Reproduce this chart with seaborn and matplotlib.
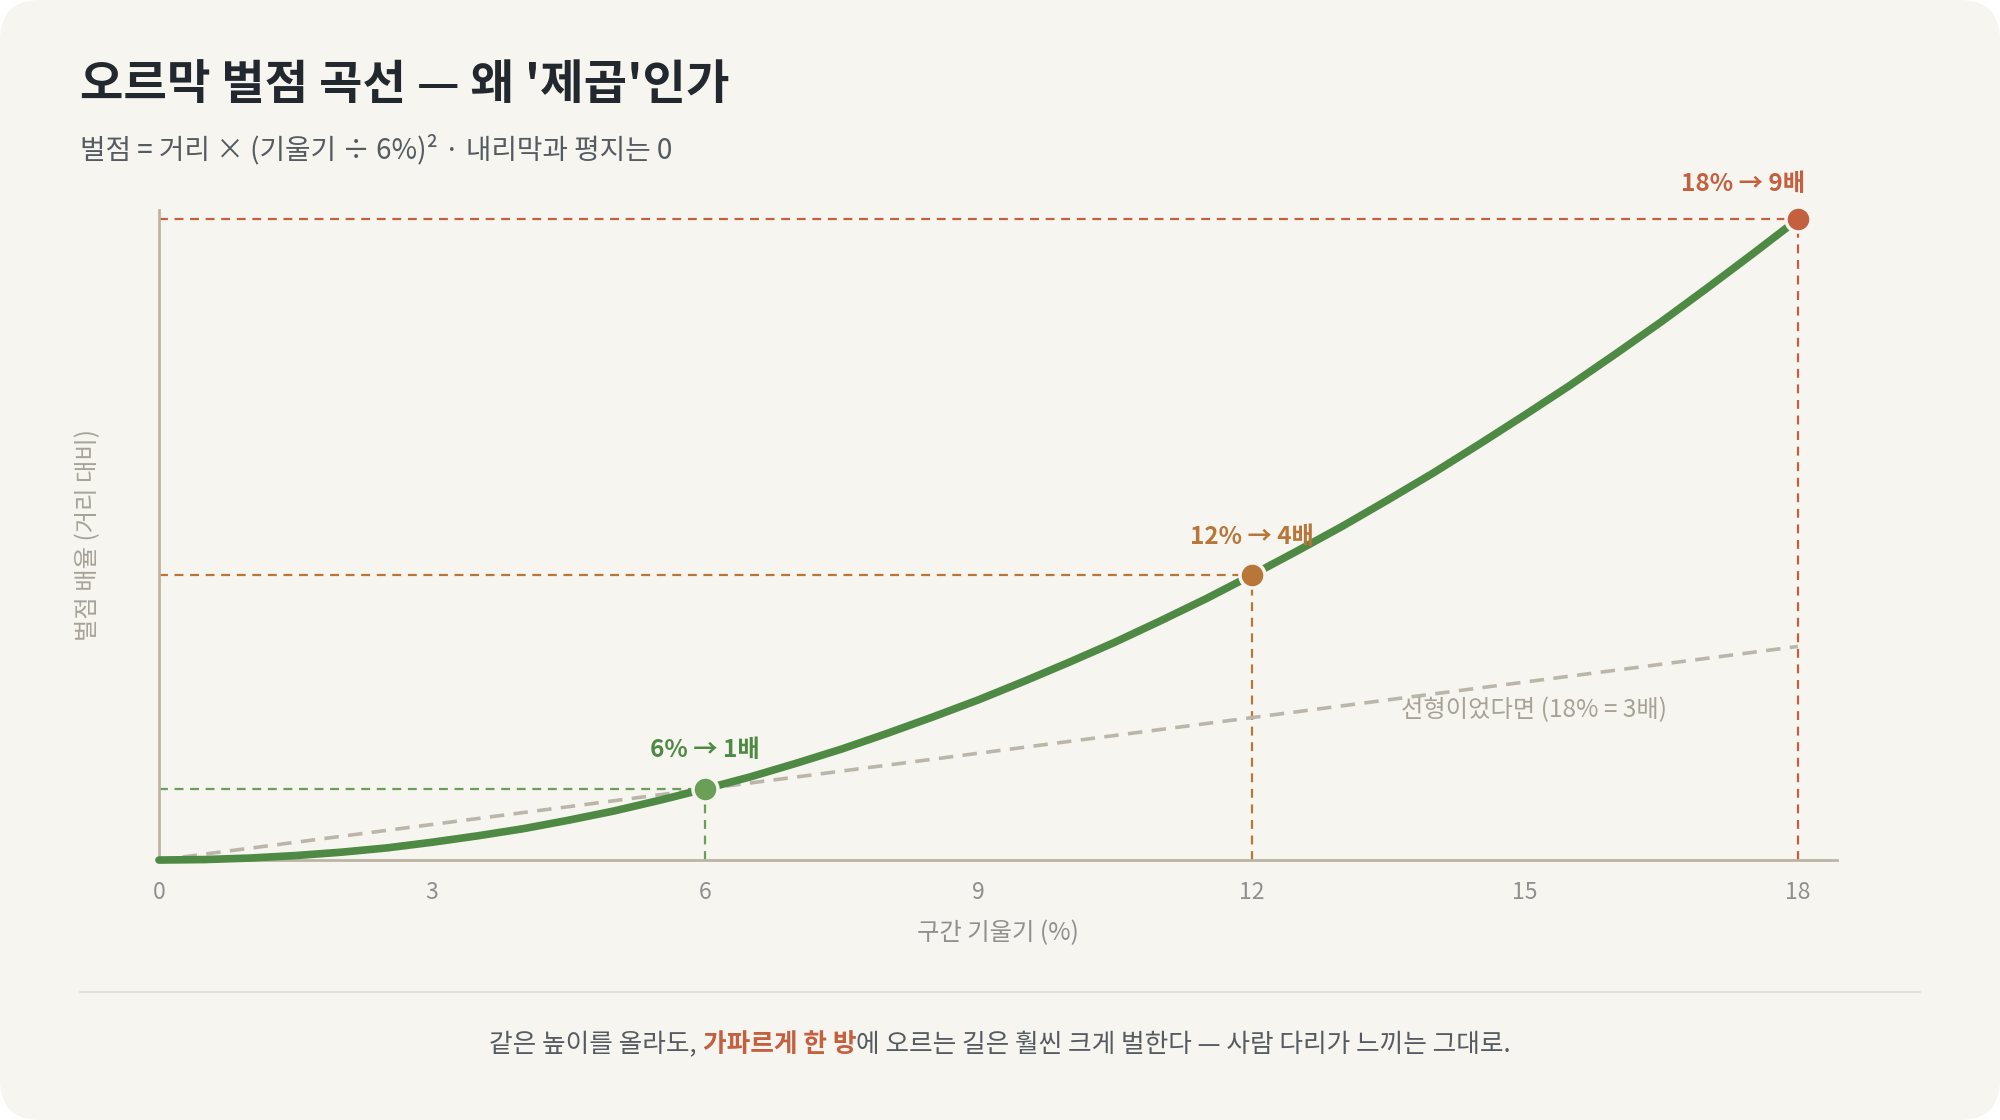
import numpy as np
import pandas as pd
import matplotlib
matplotlib.use("Agg")
import matplotlib.pyplot as plt
from matplotlib.patches import FancyBboxPatch
import seaborn as sns

# data
grade = [0, 0.5, 1, 1.5, 2, 2.5, 3, 3.5, 4, 4.5, 5, 5.5, 6, 6.5, 7, 7.5, 8, 8.5,
         9, 9.5, 10, 10.5, 11, 11.5, 12, 12.5, 13, 13.5, 14, 14.5, 15, 15.5,
         16, 16.5, 17, 17.5, 18]
penalty = [0, 0.007, 0.028, 0.063, 0.11, 0.17, 0.25, 0.34, 0.44, 0.56, 0.69,
           0.84, 1.0, 1.17, 1.36, 1.56, 1.78, 2.01, 2.25, 2.51, 2.78, 3.06,
           3.36, 3.67, 4.0, 4.34, 4.69, 5.06, 5.44, 5.84, 6.25, 6.67, 7.11,
           7.56, 8.03, 8.51, 9.0]
linear_grade = [0, 18]
linear_penalty = [0, 3]
mark_grade = [6, 12, 18]
mark_penalty = [1, 4, 9]
mark_labels = ["6% → 1배", "12% → 4배", "18% → 9배"]
mark_colors = ["#6a9f58", "#b87638", "#c4603f"]
label_colors = ["#4e8a44", "#b87638", "#c4603f"]
xticks = [0, 3, 6, 9, 12, 15, 18]

BG = "#f6f5f0"
FONTS = ["Noto Sans CJK KR", "DejaVu Sans"]

sns.set_theme(style="white")
plt.rcParams["font.family"] = FONTS

curve = pd.DataFrame({"grade": grade, "penalty": penalty})
lin = pd.DataFrame({"grade": linear_grade, "penalty": linear_penalty})

fig = plt.figure(figsize=(20, 11.2), dpi=100, facecolor="white")
card = FancyBboxPatch((0, 0), 2000, 1120, boxstyle="round,pad=0,rounding_size=40",
                      transform=None, facecolor=BG, edgecolor="none", zorder=-10)
fig.patches.append(card)

ax = fig.add_axes([0.0795, 0.2321, 0.839, 0.5804])
ax.set_facecolor(BG)

# linear reference
sns.lineplot(data=lin, x="grade", y="penalty", ax=ax, color="#bcb6aa",
             linewidth=2.6, zorder=2)
ax.lines[-1].set_dashes((4, 2.6))

# guide lines
for gx, gy, c in zip(mark_grade, mark_penalty, mark_colors):
    ax.hlines(gy, 0, gx, colors=c, linewidth=1.6, linestyles=(0, (4, 3)), zorder=1)
    ax.vlines(gx, 0, gy, colors=c, linewidth=1.6, linestyles=(0, (4, 3)), zorder=1)

# main curve
sns.lineplot(data=curve, x="grade", y="penalty", ax=ax, color="#4e8a44",
             linewidth=5.5, zorder=3)
ax.lines[-1].set_solid_capstyle("round")
ax.lines[-1].set_clip_on(False)

# markers
for gx, gy, c in zip(mark_grade, mark_penalty, mark_colors):
    ax.plot(gx, gy, "o", markersize=18, color=c, markeredgecolor=BG,
            markeredgewidth=2.5, zorder=4, clip_on=False)

# labels
for gx, gy, t, c in zip(mark_grade, mark_penalty, mark_labels, label_colors):
    if gx == 18:
        ax.annotate(t, (gx, gy), xytext=(5, 17), textcoords="offset points",
                    ha="right", va="bottom", fontsize=17.5, fontweight="bold", color=c, zorder=5)
    else:
        ax.annotate(t, (gx, gy), xytext=(0, 19), textcoords="offset points",
                    ha="center", va="bottom", fontsize=17.5, fontweight="bold", color=c, zorder=5)

ax.text(15.1, 2.1, "선형이었다면 (18% = 3배)", ha="center", va="center",
        fontsize=17.5, color="#a8a296")

ax.set_xlim(0, 18.43)
ax.set_ylim(0, 9.13)
ax.set_xticks(xticks)
ax.set_xticklabels([str(v) for v in xticks])
ax.set_yticks([])
ax.tick_params(axis="x", length=0, pad=15, labelsize=16.5, labelcolor="#8f8f8f")
for s in ["top", "right"]:
    ax.spines[s].set_visible(False)
for s in ["left", "bottom"]:
    ax.spines[s].set_color("#bcb4a4")
    ax.spines[s].set_linewidth(2)
ax.set_xlabel("구간 기울기 (%)", fontsize=17.5, color="#8f8f8f", labelpad=12)
ax.set_ylabel("벌점 배율 (거리 대비)", fontsize=17.5, color="#a8a398", labelpad=42)

# title block
fig.text(0.04, 1 - 85 / 1120, "오르막 벌점 곡선 — 왜 '제곱'인가", fontsize=34,
         fontweight="bold", color="#22282e", va="center", ha="left")
fig.text(0.04, 1 - 150 / 1120, "벌점 = 거리 × (기울기 ÷ 6%)² · 내리막과 평지는 0",
         fontsize=20, color="#555b60", va="center", ha="left")

# separator
fig.add_artist(plt.Line2D([0.04, 0.96], [1 - 992 / 1120] * 2, color="#e2dfd6",
                          linewidth=1.5, transform=fig.transFigure))

# footer with highlighted phrase
parts = [("같은 높이를 올라도, ", "normal", "#555b60"),
         ("가파르게 한 방", "bold", "#c4603f"),
         ("에 오르는 길은 훨씬 크게 벌한다 — 사람 다리가 느끼는 그대로.", "normal", "#555b60")]
fy = 1 - 1045 / 1120
texts = [fig.text(0, fy, s, fontsize=18.5, fontweight=w, color=c, va="center", ha="left")
         for s, w, c in parts]
fig.canvas.draw()
r = fig.canvas.get_renderer()
widths = [t.get_window_extent(r).width for t in texts]
x0 = 1000 - sum(widths) / 2
for t, w in zip(texts, widths):
    t.set_x(x0 / 2000)
    x0 += w

fig.savefig("out.png", dpi=100, facecolor="white")
